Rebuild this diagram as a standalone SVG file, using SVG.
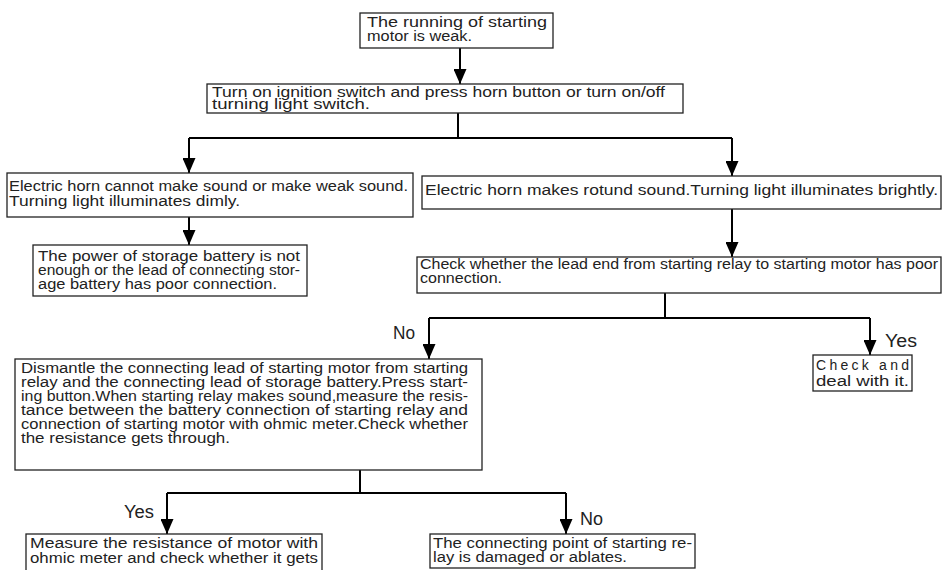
<svg xmlns="http://www.w3.org/2000/svg" width="952" height="570" viewBox="0 0 952 570">
<style>
.box{fill:#fff;stroke:#222;stroke-width:1.3}
.t{font-family:"Liberation Sans Narrow","Liberation Sans",sans-serif;font-size:14px;fill:#222}
.lbl{font-family:"Liberation Sans",sans-serif;font-size:18px;fill:#222}
.c{fill:none;stroke:#000;stroke-width:2}
</style>
<defs>
<marker id="ah" viewBox="0 0 15 13" refX="15" refY="6.5" markerWidth="15" markerHeight="13" markerUnits="userSpaceOnUse" orient="auto">
<path d="M0,0 L15,6.5 L0,13 Z" fill="#000"/>
</marker>
</defs>
<rect width="952" height="570" fill="#fff"/>
<g id="connectors">
<line class="c" x1="460" y1="48" x2="460" y2="84" marker-end="url(#ah)"/>
<polyline class="c" points="458,113 458,138"/>
<polyline class="c" points="189,138 732,138"/>
<line class="c" x1="189" y1="138" x2="189" y2="173" marker-end="url(#ah)"/>
<line class="c" x1="732" y1="138" x2="732" y2="176" marker-end="url(#ah)"/>
<line class="c" x1="189" y1="217" x2="189" y2="245" marker-end="url(#ah)"/>
<line class="c" x1="732" y1="209" x2="732" y2="257" marker-end="url(#ah)"/>
<polyline class="c" points="665,293 665,318"/>
<polyline class="c" points="429,318 870,318"/>
<line class="c" x1="429" y1="318" x2="429" y2="359" marker-end="url(#ah)"/>
<line class="c" x1="870" y1="318" x2="870" y2="355" marker-end="url(#ah)"/>
<polyline class="c" points="360,470 360,493"/>
<polyline class="c" points="167,493 566,493"/>
<line class="c" x1="167" y1="493" x2="167" y2="534" marker-end="url(#ah)"/>
<line class="c" x1="566" y1="493" x2="566" y2="534" marker-end="url(#ah)"/>
<text class="lbl" x="393" y="339" textLength="22" lengthAdjust="spacingAndGlyphs">No</text>
<text class="lbl" x="885" y="347" textLength="32" lengthAdjust="spacingAndGlyphs">Yes</text>
<text class="lbl" x="124" y="518" textLength="30" lengthAdjust="spacingAndGlyphs">Yes</text>
<text class="lbl" x="580" y="525" textLength="23" lengthAdjust="spacingAndGlyphs">No</text>
</g>
<g id="n1">
<rect class="box" x="360" y="13" width="193" height="35"/>
<text class="t" x="367" y="27" textLength="180" lengthAdjust="spacingAndGlyphs">The running of starting</text>
<text class="t" x="367" y="41" textLength="105" lengthAdjust="spacingAndGlyphs">motor is weak.</text>
</g>
<g id="n2">
<rect class="box" x="207" y="84" width="476" height="29"/>
<text class="t" x="212" y="97" textLength="453" lengthAdjust="spacingAndGlyphs">Turn on ignition switch and press horn button or turn on/off</text>
<text class="t" x="212" y="109" textLength="158" lengthAdjust="spacingAndGlyphs">turning light switch.</text>
</g>
<g id="n3">
<rect class="box" x="7" y="173" width="406" height="44"/>
<text class="t" x="9" y="191" textLength="399" lengthAdjust="spacingAndGlyphs">Electric horn cannot make sound or make weak sound.</text>
<text class="t" x="9" y="206" textLength="231" lengthAdjust="spacingAndGlyphs">Turning light illuminates dimly.</text>
</g>
<g id="n4">
<rect class="box" x="33" y="245" width="274" height="51"/>
<text class="t" x="38" y="261" textLength="262" lengthAdjust="spacingAndGlyphs">The power of storage battery is not</text>
<text class="t" x="38" y="275" textLength="262" lengthAdjust="spacingAndGlyphs">enough or the lead of connecting stor-</text>
<text class="t" x="38" y="289" textLength="239" lengthAdjust="spacingAndGlyphs">age battery has poor connection.</text>
</g>
<g id="n5">
<rect class="box" x="422" y="176" width="519" height="33"/>
<text class="t" x="425" y="195" textLength="513" lengthAdjust="spacingAndGlyphs">Electric horn makes rotund sound.Turning light illuminates brightly.</text>
</g>
<g id="n6">
<rect class="box" x="417" y="257" width="524" height="36"/>
<text class="t" x="420" y="269" textLength="518" lengthAdjust="spacingAndGlyphs">Check whether the lead end from starting relay to starting motor has poor</text>
<text class="t" x="420" y="283" textLength="82" lengthAdjust="spacingAndGlyphs">connection.</text>
</g>
<g id="n7">
<rect class="box" x="813" y="355" width="99" height="36"/>
<text class="t" x="816" y="370" textLength="93" lengthAdjust="spacing">Check and</text>
<text class="t" x="816" y="386" textLength="93" lengthAdjust="spacingAndGlyphs">deal with it.</text>
</g>
<g id="n8">
<rect class="box" x="15" y="359" width="467" height="111"/>
<text class="t" x="21" y="373" textLength="447" lengthAdjust="spacingAndGlyphs">Dismantle the connecting lead of starting motor from starting</text>
<text class="t" x="21" y="387" textLength="447" lengthAdjust="spacingAndGlyphs">relay and the connecting lead of storage battery.Press start-</text>
<text class="t" x="21" y="401" textLength="447" lengthAdjust="spacingAndGlyphs">ing button.When starting relay makes sound,measure the resis-</text>
<text class="t" x="21" y="415" textLength="447" lengthAdjust="spacingAndGlyphs">tance between the battery connection of starting relay and</text>
<text class="t" x="21" y="429" textLength="447" lengthAdjust="spacingAndGlyphs">connection of starting motor with ohmic meter.Check whether</text>
<text class="t" x="21" y="443" textLength="209" lengthAdjust="spacingAndGlyphs">the resistance gets through.</text>
</g>
<g id="n9">
<rect class="box" x="26" y="534" width="296" height="50"/>
<text class="t" x="30" y="548" textLength="288" lengthAdjust="spacingAndGlyphs">Measure the resistance of motor with</text>
<text class="t" x="30" y="563" textLength="288" lengthAdjust="spacingAndGlyphs">ohmic meter and check whether it gets</text>
</g>
<g id="n10">
<rect class="box" x="430" y="534" width="265" height="34"/>
<text class="t" x="433" y="548" textLength="259" lengthAdjust="spacingAndGlyphs">The connecting point of starting re-</text>
<text class="t" x="433" y="562" textLength="194" lengthAdjust="spacingAndGlyphs">lay is damaged or ablates.</text>
</g>
</svg>
